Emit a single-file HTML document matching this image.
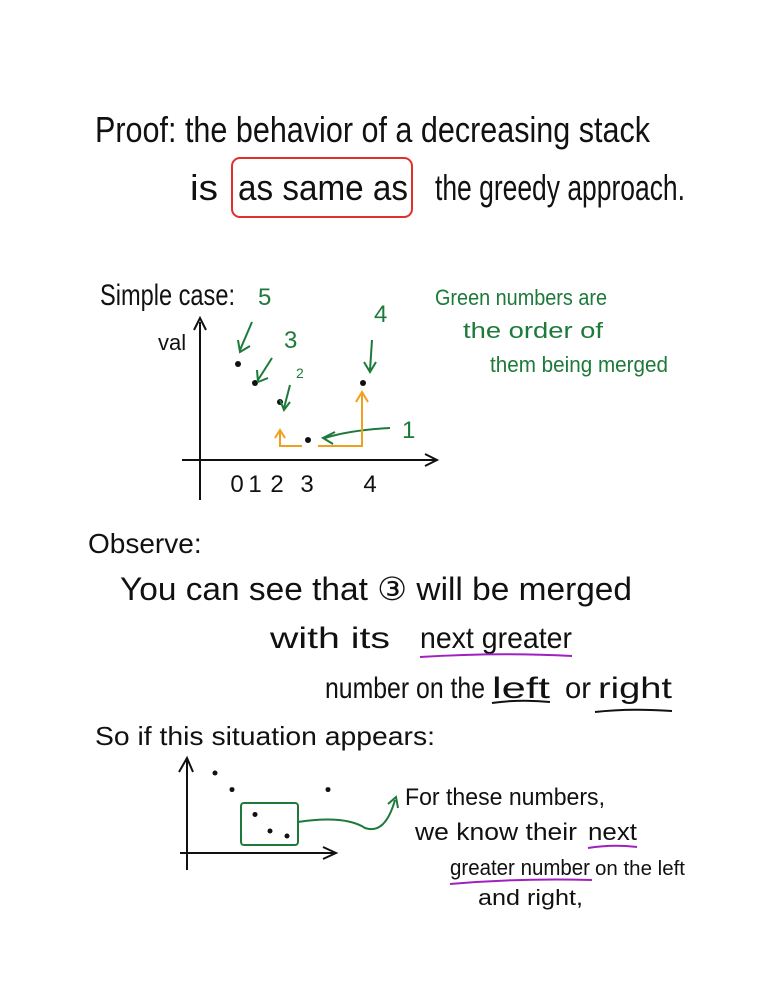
<!DOCTYPE html>
<html><head><meta charset="utf-8">
<style>
html,body{margin:0;padding:0;background:#fff;}
svg{display:block;}
text{font-family:"Liberation Sans",sans-serif;}
.h{fill:#111;}
.g{fill:#1d7a3a;}
</style></head>
<body>
<svg id="page" width="773" height="1000" viewBox="0 0 773 1000" xmlns="http://www.w3.org/2000/svg">
<rect width="773" height="1000" fill="#fff"/>
<text class="h" x="95" y="142" font-size="36" textLength="555" lengthAdjust="spacingAndGlyphs">Proof: the behavior of a decreasing stack</text>
<text class="h" x="190" y="200" font-size="36" textLength="28" lengthAdjust="spacingAndGlyphs">is</text>
<text class="h" x="238" y="200" font-size="36" textLength="170" lengthAdjust="spacingAndGlyphs">as same as</text>
<text class="h" x="435" y="200" font-size="36" textLength="250" lengthAdjust="spacingAndGlyphs">the greedy approach.</text>
<rect x="232" y="158" width="180" height="59" rx="8" fill="none" stroke="#e0302a" stroke-width="2"/>

<text class="h" x="100" y="305" font-size="30" textLength="135" lengthAdjust="spacingAndGlyphs">Simple case:</text>
<text class="h" x="158" y="350" font-size="22">val</text>
<g id="chart1"></g>

<text class="g" x="435" y="305" font-size="22" textLength="172" lengthAdjust="spacingAndGlyphs">Green numbers are</text>
<text class="g" x="463" y="338" font-size="22" textLength="140" lengthAdjust="spacingAndGlyphs">the order of</text>
<text class="g" x="490" y="372" font-size="22" textLength="178" lengthAdjust="spacingAndGlyphs">them being merged</text>

<text class="h" x="88" y="553" font-size="28">Observe:</text>
<text class="h" x="120" y="600" font-size="32" textLength="512" lengthAdjust="spacingAndGlyphs">You can see that  ③  will be merged</text>
<text class="h" x="270" y="648" font-size="30" textLength="120" lengthAdjust="spacingAndGlyphs">with its</text>
<text class="h" x="420" y="648" font-size="30" textLength="152" lengthAdjust="spacingAndGlyphs">next greater</text>
<path d="M420 657 Q500 652 572 656" stroke="#a020c0" stroke-width="2" fill="none"/>
<text class="h" x="325" y="698" font-size="30" textLength="160" lengthAdjust="spacingAndGlyphs">number on the</text>
<text class="h" x="492" y="698" font-size="30" textLength="58" lengthAdjust="spacingAndGlyphs">left</text>
<text class="h" x="565" y="698" font-size="30" textLength="26" lengthAdjust="spacingAndGlyphs">or</text>
<text class="h" x="598" y="698" font-size="30" textLength="74" lengthAdjust="spacingAndGlyphs">right</text>
<path d="M492 703 Q520 699 550 702" stroke="#111" stroke-width="2" fill="none"/>
<path d="M595 712 Q630 708 672 711" stroke="#111" stroke-width="2" fill="none"/>
<text class="h" x="95" y="745" font-size="26" textLength="340" lengthAdjust="spacingAndGlyphs">So if this situation appears:</text>

<g id="chart2"></g>
<rect x="241" y="803" width="57" height="42" rx="3" fill="none" stroke="#1d7a3a" stroke-width="2"/>
<path d="M298 822 Q345 815 365 828 Q385 835 395 800 M388 804 L396 797 L398 808" stroke="#1d7a3a" stroke-width="2" fill="none"/>
<text class="h" x="405" y="805" font-size="24" textLength="200" lengthAdjust="spacingAndGlyphs">For these numbers,</text>
<text class="h" x="415" y="840" font-size="24" textLength="162" lengthAdjust="spacingAndGlyphs">we know their</text>
<text class="h" x="588" y="840" font-size="24" textLength="49" lengthAdjust="spacingAndGlyphs">next</text>
<path d="M588 848 Q612 844 637 847" stroke="#a020c0" stroke-width="2" fill="none"/>
<text class="h" x="450" y="875" font-size="22" textLength="140" lengthAdjust="spacingAndGlyphs">greater number</text>
<text class="h" x="595" y="875" font-size="20" textLength="90" lengthAdjust="spacingAndGlyphs">on the left</text>
<path d="M450 884 Q520 878 592 880" stroke="#a020c0" stroke-width="2" fill="none"/>
<text class="h" x="478" y="905" font-size="22" textLength="105" lengthAdjust="spacingAndGlyphs">and right,</text>
</svg>
<script>
const NS="http://www.w3.org/2000/svg";
// chart 1 data
const idx1=[0,1,2,3,4];
const vals1=[5,4,3,1,4];
const xLabels1=["0","1","2","3","4"];
const order1=["5","3","2","1","4"];
// chart 2 data
const idx2=[0,1,2,3,4,5];
const vals2=[5,4,2.5,1.5,1.2,4];
function mk(t,p,a){const e=document.createElementNS(NS,t);for(const k in a)e.setAttribute(k,a[k]);p.appendChild(e);return e;}
const c1=document.getElementById('chart1');
const px1=[238,255,280,308,363];
const x1=i=>px1[i];
const y1=v=>440-(v-1)*19;
let e;
e=mk('path',c1,{d:'M200 500 L200 322 M194 330 L200 318 L206 330',stroke:'#111','stroke-width':2,fill:'none'});

e=mk('path',c1,{d:'M182 460 L435 460 M425 454 L437 460 L425 466',stroke:'#111','stroke-width':2,fill:'none'});

const tickX=[237,255,277,307,370];
idx1.forEach(i=>{
 const t=mk('text',c1,{x:tickX[i],y:492,'font-size':24,'text-anchor':'middle',class:'h'});t.textContent=xLabels1[i];
 
 const p=mk('circle',c1,{cx:x1(i),cy:y1(vals1[i]),r:3,fill:'#111'});
 
});
const lblPos=[[258,305],[284,348],[296,378],[402,438],[374,322]];
idx1.forEach(i=>{
 const t=mk('text',c1,{x:lblPos[i][0],y:lblPos[i][1],'font-size':i==2?14:24,class:'g'});t.textContent=order1[i];
 
});
e=mk('path',c1,{d:'M252 322 L240 350 M238 340 L240 352 L250 346 M272 358 L258 380 M257 370 L258 382 L268 378 M290 385 L284 408 M280 400 L284 410 L290 402 M390 428 Q350 430 325 438 M335 432 L323 438 L333 444 M372 340 L370 370 M364 362 L370 372 L376 362',stroke:'#1d7a3a','stroke-width':2,fill:'none'});

e=mk('path',c1,{d:'M302 446 L280 446 L280 432 M275 438 L280 430 L285 438 M318 446 L362 446 L362 394 M356 402 L362 392 L368 402',stroke:'#f0a020','stroke-width':2,fill:'none'});

const c2=document.getElementById('chart2');
const px2=[215,232,255,270,287,328];
const y2=v=>836-(v-1.2)*(63/3.8);
e=mk('path',c2,{d:'M187 870 L187 760 M179 772 L187 758 L193 772',stroke:'#111','stroke-width':2,fill:'none'});

e=mk('path',c2,{d:'M180 853 L335 853 M323 847 L336 853 L323 859',stroke:'#111','stroke-width':2,fill:'none'});

idx2.forEach(i=>{
 const p=mk('circle',c2,{cx:px2[i],cy:y2(vals2[i]),r:2.5,fill:'#111'});
 
});
</script>
</body></html>
